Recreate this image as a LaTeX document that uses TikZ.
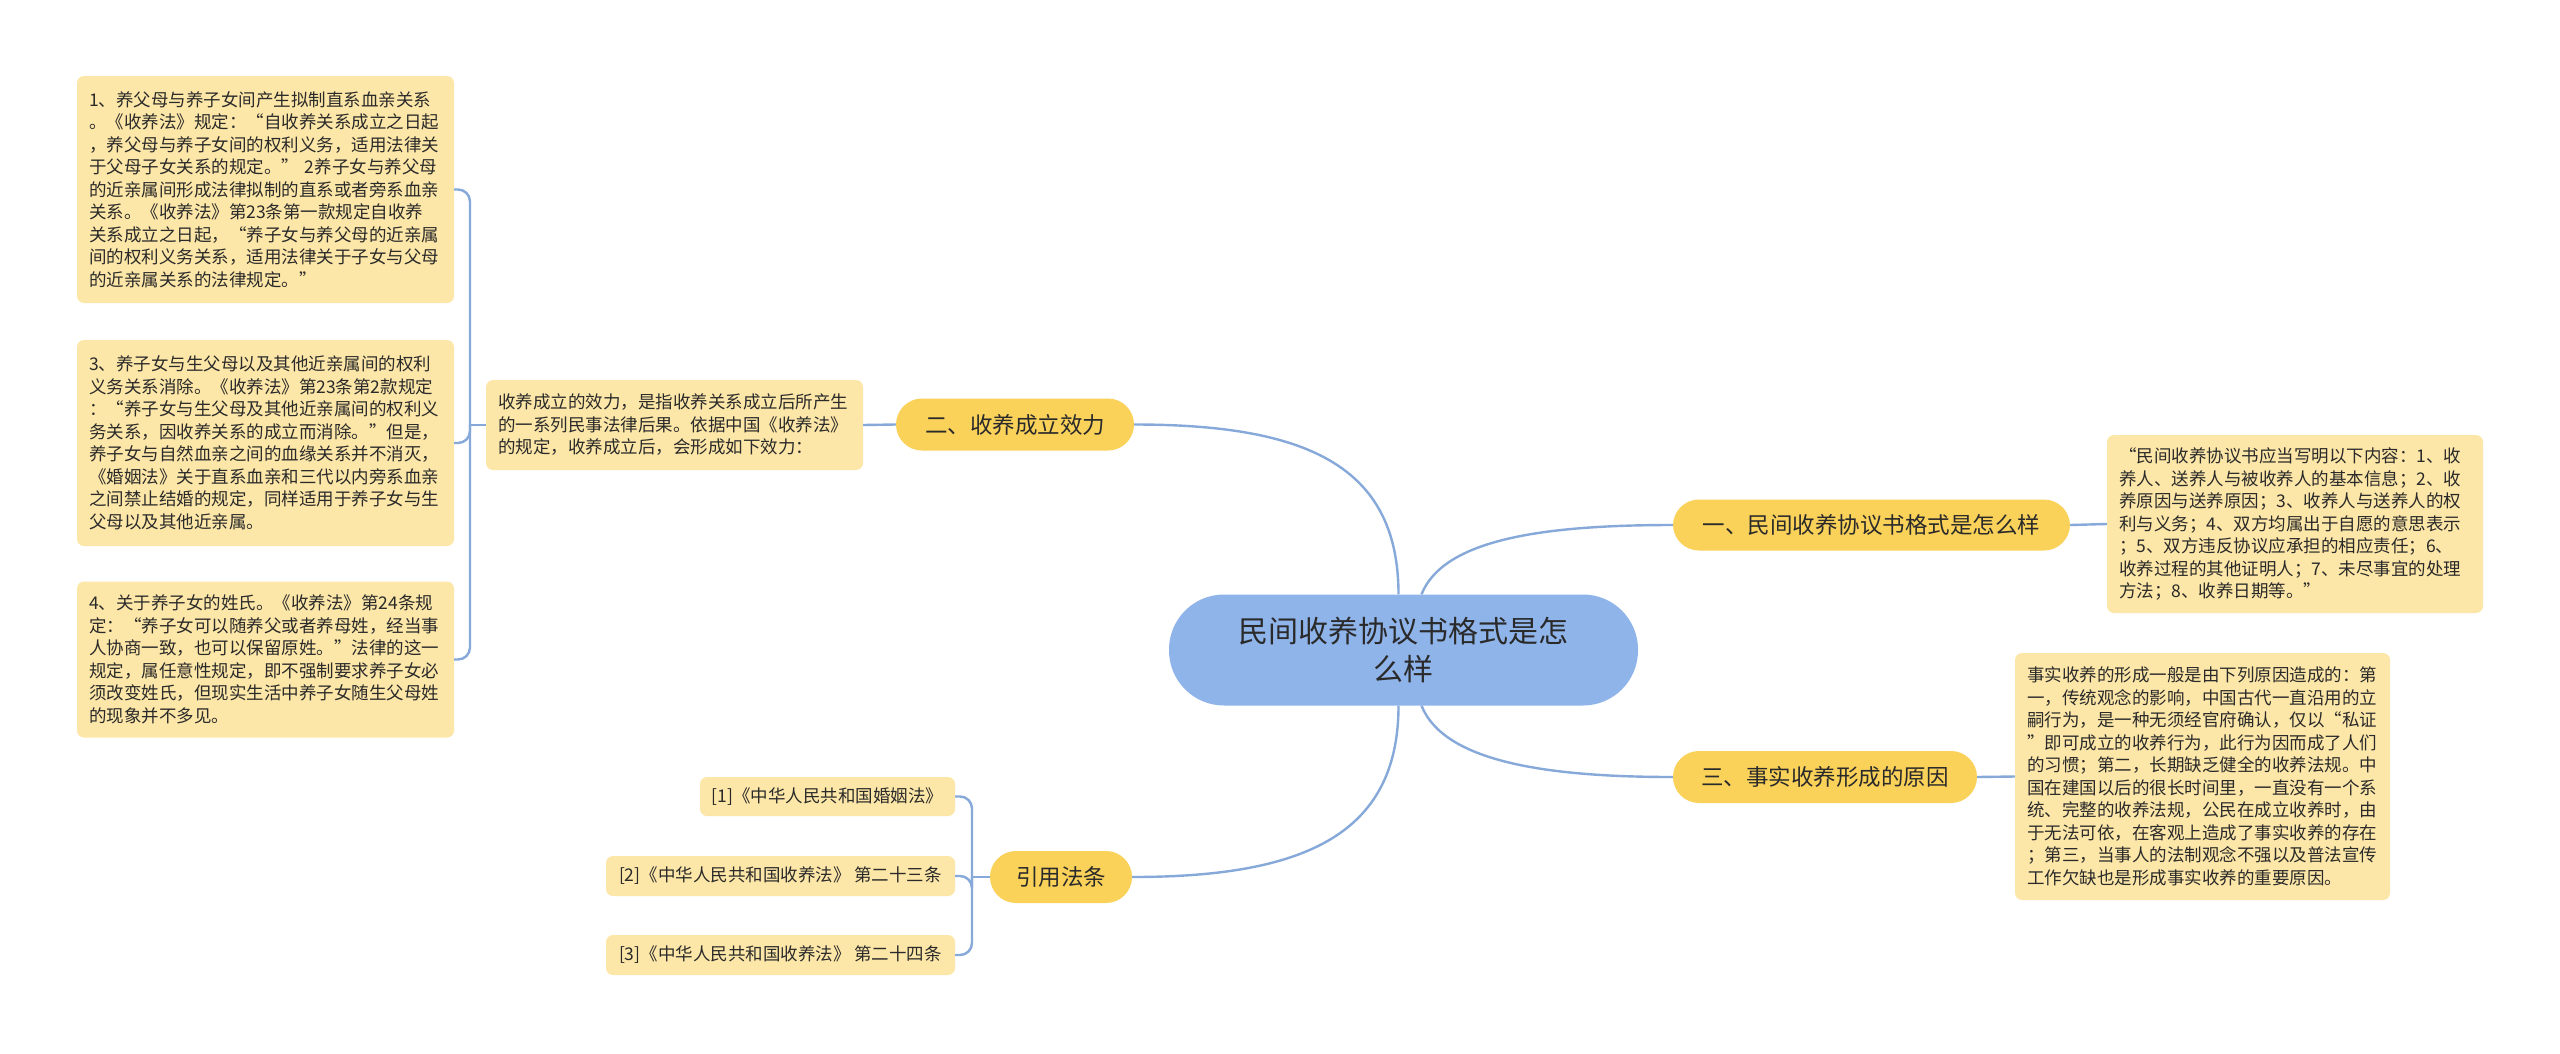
\documentclass[tikz,border=0pt]{standalone}
\usepackage{fontspec}
\setmainfont{Noto Sans CJK SC}
\usetikzlibrary{calc}
\definecolor{ctrc}{HTML}{8FB4EA}
\definecolor{brc}{HTML}{FAD25A}
\definecolor{leafc}{HTML}{FDE7A8}
\definecolor{linec}{HTML}{86A9DA}
\definecolor{txtc}{HTML}{2A2A2A}
\begin{document}
\begin{tikzpicture}[x=1pt,y=-1pt,
  leafbox/.style={fill=leafc, rounded corners=7pt, inner xsep=12pt, inner ysep=0pt, align=left, text=txtc, font=\fontsize{17.5}{22.5}\selectfont},
  citebox/.style={fill=leafc, rounded corners=7pt, inner xsep=0pt, inner ysep=0pt, align=center, minimum height=39pt, text=txtc, font=\fontsize{17.5}{22.5}\selectfont},
  branchbox/.style={fill=brc, rounded corners=26pt, minimum height=52pt, inner xsep=0pt, inner ysep=0pt, align=center, text=txtc, font=\fontsize{22.5}{27}\selectfont},
  ctrbox/.style={fill=ctrc, rounded corners=55pt, minimum width=469pt, minimum height=111pt, inner sep=0pt, align=center, text=txtc, font=\fontsize{30}{38.5}\selectfont},
  conn/.style={draw=linec, line width=2.4pt}
]
\useasboundingbox (0,0) rectangle (2560,1053);
\fill[white] (0,0) rectangle (2560,1053);

% central
\node[ctrbox] (ctr) at (1403.5,650) {民间收养协议书格式是怎\\么样};

% branches
\node[branchbox, minimum width=238pt] (b2) at (1015,424.5) {二、收养成立效力};
\node[branchbox, minimum width=142pt] (b4) at (1061,877) {引用法条};
\node[branchbox, minimum width=397pt, minimum height=51pt] (b1) at (1871.5,525) {一、民间收养协议书格式是怎么样};
\node[branchbox, minimum width=304pt] (b3) at (1825,777) {三、事实收养形成的原因};

% leaves of branch 2
\node[leafbox, text width=353pt, minimum height=90pt] (l2) at (674.5,425) {收养成立的效力，是指收养关系成立后所产生\\的一系列民事法律后果。依据中国《收养法》\\的规定，收养成立后，会形成如下效力：};

\node[leafbox, text width=353pt, minimum height=227pt] (la) at (265.5,189.5) {1、养父母与养子女间产生拟制直系血亲关系\\。《收养法》规定：“自收养关系成立之日起\\，养父母与养子女间的权利义务，适用法律关\\于父母子女关系的规定。” 2养子女与养父母\\的近亲属间形成法律拟制的直系或者旁系血亲\\关系。《收养法》第23条第一款规定自收养\\关系成立之日起，“养子女与养父母的近亲属\\间的权利义务关系，适用法律关于子女与父母\\的近亲属关系的法律规定。”};

\node[leafbox, text width=353pt, minimum height=206pt] (lb) at (265.5,443) {3、养子女与生父母以及其他近亲属间的权利\\义务关系消除。《收养法》第23条第2款规定\\：“养子女与生父母及其他近亲属间的权利义\\务关系，因收养关系的成立而消除。”但是，\\养子女与自然血亲之间的血缘关系并不消灭，\\《婚姻法》关于直系血亲和三代以内旁系血亲\\之间禁止结婚的规定，同样适用于养子女与生\\父母以及其他近亲属。};

\node[leafbox, text width=353pt, minimum height=156pt] (lc) at (265.5,659.5) {4、关于养子女的姓氏。《收养法》第24条规\\定：“养子女可以随养父或者养母姓，经当事\\人协商一致，也可以保留原姓。”法律的这一\\规定，属任意性规定，即不强制要求养子女必\\须改变姓氏，但现实生活中养子女随生父母姓\\的现象并不多见。};

% citations
\node[citebox, minimum width=255pt] (c1) at (827.5,796.5) {[1]《中华人民共和国婚姻法》};
\node[citebox, minimum width=349pt, minimum height=40pt] (c2) at (780.5,876) {[2]《中华人民共和国收养法》 第二十三条};
\node[citebox, minimum width=349pt, minimum height=40pt] (c3) at (780.5,955) {[3]《中华人民共和国收养法》 第二十四条};

% right leaves
\node[leafbox, text width=352pt, minimum height=178pt] (l1) at (2295,524) {“民间收养协议书应当写明以下内容：1、收\\养人、送养人与被收养人的基本信息；2、收\\养原因与送养原因；3、收养人与送养人的权\\利与义务；4、双方均属出于自愿的意思表示\\；5、双方违反协议应承担的相应责任；6、\\收养过程的其他证明人；7、未尽事宜的处理\\方法；8、收养日期等。”};

\node[leafbox, text width=351pt, minimum height=247pt] (l3) at (2202.5,776.5) {事实收养的形成一般是由下列原因造成的：第\\一，传统观念的影响，中国古代一直沿用的立\\嗣行为，是一种无须经官府确认，仅以“私证\\”即可成立的收养行为，此行为因而成了人们\\的习惯；第二，长期缺乏健全的收养法规。中\\国在建国以后的很长时间里，一直没有一个系\\统、完整的收养法规，公民在成立收养时，由\\于无法可依，在客观上造成了事实收养的存在\\；第三，当事人的法制观念不强以及普法宣传\\工作欠缺也是形成事实收养的重要原因。};

% connectors from centre
\draw[conn] ($(ctr.north)+(-5,0)$) .. controls +(0,-130) and +(170,0) .. (b2.east);
\draw[conn] ($(ctr.north)+(18,0)$) .. controls +(22,-55) and +(-130,0) .. (b1.west);
\draw[conn] ($(ctr.south)+(18,0)$) .. controls +(22,55) and +(-130,0) .. (b3.west);
\draw[conn] ($(ctr.south)+(-5,0)$) .. controls +(0,130) and +(170,0) .. (b4.east);

% branch to leaf
\draw[conn] (b1.east) -- (l1.west);
\draw[conn] (b3.east) -- (l3.west);
\draw[conn] (b2.west) -- (l2.east);

% left bracket
\coordinate (k2) at (470,425);
\draw[conn] (l2.west) -- (k2);
\draw[conn, rounded corners=12pt] (k2) |- (la.east);
\draw[conn, rounded corners=12pt] (k2) |- (lb.east);
\draw[conn, rounded corners=12pt] (k2) |- (lc.east);

% citation bracket
\coordinate (k4) at (972,877);
\draw[conn] (b4.west) -- (k4);
\draw[conn, rounded corners=12pt] (k4) |- (c1.east);
\draw[conn, rounded corners=12pt] (k4) |- (c2.east);
\draw[conn, rounded corners=12pt] (k4) |- (c3.east);
\end{tikzpicture}
\end{document}
